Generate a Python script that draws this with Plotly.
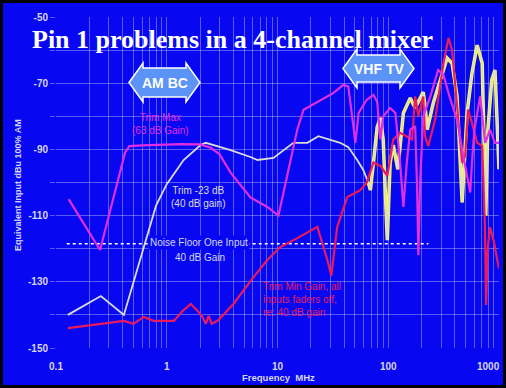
import plotly.graph_objects as go

# ---- measured data: equivalent input level (dBu, 100% AM) vs frequency (MHz) ----
trim_max_freq = [0.13, 0.25, 0.42, 0.46, 0.6, 1.0, 1.34, 2.0, 2.5, 3.0, 3.77, 5.7, 8.1, 10.2,
                 12.5, 15.1, 17.2, 24.5, 31.8, 39.4, 43.6, 48, 50.5, 54, 64, 73.5, 79.5, 85,
                 90, 104, 116, 128, 137, 147, 158, 175, 182, 187, 194, 207, 240, 282, 315,
                 357, 418, 470, 550, 570, 600, 675, 750, 830, 920, 1000]
trim_max_db = [-105, -120.4, -91, -89, -88.8, -88.6, -88.4, -88.5, -89.5, -91.5, -97, -104.5,
               -107.4, -110, -96, -84, -78, -75, -73, -70.5, -71, -82, -88, -79, -75, -73.5,
               -75.7, -87, -80, -77.5, -79, -94, -107.4, -94, -84, -83, -101, -122, -100,
               -80, -74, -66, -67.5, -74, -81, -91, -103, -94, -84, -74, -88, -84, -88, -88]

trim23_freq = [0.128, 0.254, 0.41, 0.674, 0.8, 1.0, 1.42, 2.02, 2.25, 3.06, 3.77, 5.7, 6.6,
               9.2, 13.9, 18.6, 23.4, 36.8, 43.6, 52.4, 59.5, 66, 69, 73.5, 79.5, 85, 90, 98,
               104, 111, 122, 137, 158, 175, 194, 207, 215, 225, 255, 294, 340, 377, 418, 465,
               515, 570, 635, 705, 740, 760, 790, 860, 920, 960, 1000]
trim23_db = [-140, -134.3, -140, -115.5, -107, -100.5, -93.2, -88.7, -88, -89.3, -90.2, -92.3,
             -93.2, -92.6, -88, -88, -86, -88, -89.3, -93.2, -96.2, -100, -102.3, -94, -83.2,
             -80.5, -87, -117.4, -94, -88.7, -96, -79, -74.5, -77.5, -74.5, -72.7, -77, -84,
             -76, -69, -62.4, -64, -74, -106, -79, -67, -58.5, -64, -90, -110, -85, -69, -66,
             -84, -96]

trim_min_freq = [0.128, 0.254, 0.41, 0.5, 0.62, 0.76, 1.16, 1.39, 1.65, 1.9, 2.1, 2.25, 2.39,
                 2.54, 2.88, 4.0, 6.1, 8.1, 10.6, 15.1, 22.9, 28.2, 30.6, 34.6, 42.7, 56, 64,
                 73.5, 85, 98, 111, 128, 147, 164, 175, 187, 207, 215, 230, 265, 315, 350, 377,
                 418, 465, 495, 525, 570, 635, 705, 745, 765, 790, 830, 900, 960, 1000]
trim_min_db = [-144, -142.7, -141.8, -142.7, -140.6, -141.8, -141.8, -138.8, -136.7, -138.8,
               -140.6, -142.7, -140.3, -142.7, -141.8, -136.7, -128.5, -123.4, -119.5, -116.8,
               -113.4, -123.4, -128.2, -113.4, -104.4, -102.3, -100, -94, -95, -98, -87, -85,
               -86, -87, -74, -80, -74, -86, -89, -81, -64, -56.3, -60, -76, -94, -92, -78,
               -82, -88, -89, -112, -137, -120, -113.5, -118, -123, -126]

noise_floor_db = -118.5
noise_floor_span = [0.125, 230]

x_tick_vals = [m * 10 ** e for e in range(-1, 3) for m in range(1, 10)] + [1000]
x_tick_text = ["0.1", "", "", "", "", "", "", "", "",
               "1", "", "", "", "", "", "", "", "",
               "10", "", "", "", "", "", "", "", "",
               "100", "", "", "", "", "", "", "", "",
               "1000"]
y_tick_vals = list(range(-150, -40, 10))
y_tick_text = ["-150", "", "-130", "", "-110", "", "-90", "", "-70", "", "-50"]

# ---- styling ----
W, H = 506, 388
ML, MR, MT, MB = 56, 7, 17, 40
PW, PH = W - ML - MR, H - MT - MB
BG = "#0707f2"
GRID = "rgba(205,205,255,0.42)"
MAGENTA = "#e22ee2"
RED = "#ea1a5c"
PALE = "#dcdcd2"
YELLOW = "#ffff30"
TXT = "#d6d6ee"
SANS = "Liberation Sans, Arial, sans-serif"


def px(x):
    return (x - ML) / PW


def py(y):
    return (H - MB - y) / PH


fig = go.Figure()

fig.add_trace(go.Scatter(
    x=noise_floor_span, y=[noise_floor_db] * 2, mode="lines",
    line=dict(color="white", width=1.5, dash="3px,3px"), hoverinfo="skip"))

hf = [i for i, f in enumerate(trim23_freq) if f >= 64]
fig.add_trace(go.Scatter(
    x=[trim23_freq[i] for i in hf], y=[trim23_db[i] for i in hf], mode="lines",
    line=dict(color=YELLOW, width=3.5), hoverinfo="skip"))
fig.add_trace(go.Scatter(
    x=trim23_freq, y=trim23_db, mode="lines",
    line=dict(color=PALE, width=1.8), hoverinfo="skip"))
fig.add_trace(go.Scatter(
    x=trim_min_freq, y=trim_min_db, mode="lines",
    line=dict(color=RED, width=2.2), hoverinfo="skip"))
fig.add_trace(go.Scatter(
    x=trim_max_freq, y=trim_max_db, mode="lines",
    line=dict(color=MAGENTA, width=2.2), hoverinfo="skip"))


def block_arrow(x0, x1, yc, head, shaft_half, head_half):
    pts = [
        (x0, yc), (x0 + head, yc - head_half), (x0 + head, yc - shaft_half),
        (x1 - head, yc - shaft_half), (x1 - head, yc - head_half), (x1, yc),
        (x1 - head, yc + head_half), (x1 - head, yc + shaft_half),
        (x0 + head, yc + shaft_half), (x0 + head, yc + head_half),
    ]
    return "M " + " L ".join(f"{px(a):.5f},{py(b):.5f}" for a, b in pts) + " Z"


shapes = [
    dict(type="path", xref="paper", yref="paper",
         path=block_arrow(129, 200, 82.5, 14, 14.5, 19.5),
         fillcolor="#5b94f6", line=dict(color="white", width=1.5), layer="above"),
    dict(type="path", xref="paper", yref="paper",
         path=block_arrow(343, 414, 68.5, 14, 13.5, 19.5),
         fillcolor="#5b94f6", line=dict(color="white", width=1.5), layer="above"),
    dict(type="rect", xref="paper", yref="paper",
         x0=px(0), x1=px(W), y0=py(H), y1=py(0),
         line=dict(color="black", width=6), fillcolor="rgba(0,0,0,0)", layer="above"),
]


def note(text, x, y, color, size, xanchor="center", bold=False, bg=None, angle=0, family=SANS):
    a = dict(text=text, x=px(x), y=py(y), xref="paper", yref="paper", showarrow=False,
             xanchor=xanchor, yanchor="middle", textangle=angle,
             font=dict(family=family, size=size, color=color,
                       weight="bold" if bold else "normal"),
             align="left" if xanchor == "left" else "center")
    if bg:
        a["bgcolor"] = bg
        a["borderpad"] = 1
    return a


annotations = [
    note("Pin 1 problems in a 4-channel mixer", 232.5, 39, "white", 26, bold=True,
         family="Liberation Serif, Times New Roman, serif"),
    note("AM BC", 164.5, 83, "white", 14, bold=True),
    note("VHF TV", 378.5, 69, "white", 14, bold=True),
    note("Trim Max<br>(63 dB Gain)", 160, 124, MAGENTA, 10),
    note("Trim -23 dB<br>(40 dB gain)", 198, 197, PALE, 10),
    note("Noise Floor One Input", 199, 242, TXT, 10, bg=BG),
    note("40 dB Gain", 200, 257, TXT, 10),
    note("Trim Min Gain, all<br>inputs faders off,<br>re: 40 dB gain", 261, 299, RED, 10,
         xanchor="left"),
    note("Frequency  MHz", 278, 377, TXT, 9.5, bold=True),
    note("Equivalent Input dBu 100% AM", 18, 185, TXT, 9, bold=True, angle=-90),
    # the last decade label sits at the right edge; keep it inside the frame
    note("1000", 502, 366, TXT, 10, xanchor="right", bold=True),
]

fig.update_layout(
    width=W, height=H,
    margin=dict(l=ML, r=MR, t=MT, b=MB, pad=0),
    paper_bgcolor=BG, plot_bgcolor=BG,
    showlegend=False,
    shapes=shapes, annotations=annotations,
    xaxis=dict(type="log", range=[-1, 3], tickvals=x_tick_vals, ticktext=x_tick_text,
               showgrid=True, gridcolor=GRID, gridwidth=1, zeroline=False,
               showline=False, ticks="", ticklabelstandoff=11,
               tickfont=dict(family=SANS, size=10, color=TXT, weight="bold")),
    yaxis=dict(range=[-150, -50], tickvals=y_tick_vals, ticktext=y_tick_text,
               showgrid=True, gridcolor=GRID, gridwidth=1, zeroline=False,
               showline=False, ticks="outside", ticklen=5, tickcolor=GRID,
               tickfont=dict(family=SANS, size=10, color=TXT, weight="bold")),
)

fig.write_html("out.html")
